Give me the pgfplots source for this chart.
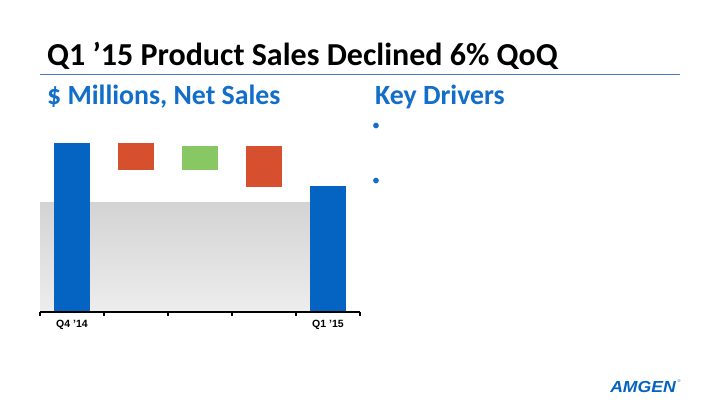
\documentclass[border=0pt]{standalone}
\usepackage{pgfplots}
\pgfplotsset{compat=1.18}
\usepackage{fontspec}
\setmainfont{Carlito}
\newfontfamily\arialf{Liberation Sans}
\definecolor{amblue}{RGB}{5,99,193}
\definecolor{hdblue}{RGB}{18,110,200}
\definecolor{rulecol}{RGB}{70,120,200}
\definecolor{wfred}{RGB}{214,79,46}
\definecolor{wfgreen}{RGB}{136,200,100}

\begin{document}
\begin{tikzpicture}[x=1pt,y=1pt]
  \fill[white] (0,0) rectangle (720,405);
  \useasboundingbox (0,0) rectangle (720,405);

  % header
  \node[anchor=base west,inner sep=0pt,font=\fontsize{32}{33}\selectfont\bfseries]
    at (47,339) {Q1 ’15 Product Sales Declined 6\% QoQ};
  \draw[rulecol,line width=1pt] (40,330.7) -- (680,330.7);
  \node[anchor=base west,inner sep=0pt,text=hdblue,font=\fontsize{27.8}{28}\selectfont\bfseries]
    at (47,300) {\$ Millions, Net Sales};
  \node[anchor=base west,inner sep=0pt,text=hdblue,font=\fontsize{27.8}{28}\selectfont\bfseries]
    at (375,300) {Key Drivers};
  \node[text=hdblue,inner sep=0pt,font=\fontsize{16}{16}\selectfont] at (376,278) {•};
  \node[text=hdblue,inner sep=0pt,font=\fontsize{16}{16}\selectfont] at (376,223) {•};

  % logo
  \node[text=amblue,inner sep=0pt,xscale=1.1,font=\arialf\fontsize{16}{16}\selectfont\bfseries\itshape]
    at (643,18.5) {AMGEN};
  \node[text=amblue,inner sep=0pt,font=\arialf\fontsize{4}{4}\selectfont] at (679,23.5) {®};

  \begin{axis}[
    at={(40pt,93.3pt)}, anchor=south west,
    scale only axis, width=320pt, height=169pt,
    xmin=-0.5, xmax=4.5, ymin=0, ymax=169,
    axis x line*=bottom, axis y line=none,
    axis line style={black,line width=1.6pt,-},
    xtick={-0.5,0.5,...,4.5}, xticklabels={},
    tick align=outside, major tick length=4pt,
    tick style={black,line width=1.2pt},
    extra x ticks={0,4},
    extra x tick labels={Q4 ’14,Q1 ’15},
    extra x tick style={major tick length=0pt,
      tick label style={yshift=-4.5pt}},
    tick label style={font=\arialf\fontsize{10.5}{10.5}\selectfont\bfseries},
    axis on top, clip=false,
  ]
    % grey band
    \addplot[draw=none,top color=black!17,bottom color=black!7]
      coordinates {(-0.5,0)(-0.5,109)(4,109)(4,0)} -- cycle;
    % waterfall bars
    \addplot[draw=none,fill=amblue]
      coordinates {(-0.28,0)(-0.28,169)(0.28,169)(0.28,0)} -- cycle;
    \addplot[draw=none,fill=wfred]
      coordinates {(0.72,141.7)(0.72,169)(1.28,169)(1.28,141.7)} -- cycle;
    \addplot[draw=none,fill=wfgreen]
      coordinates {(1.72,141.7)(1.72,166)(2.28,166)(2.28,141.7)} -- cycle;
    \addplot[draw=none,fill=wfred]
      coordinates {(2.72,124.4)(2.72,166)(3.28,166)(3.28,124.4)} -- cycle;
    \addplot[draw=none,fill=amblue]
      coordinates {(3.72,0)(3.72,125.7)(4.28,125.7)(4.28,0)} -- cycle;
  \end{axis}
\end{tikzpicture}
\end{document}
